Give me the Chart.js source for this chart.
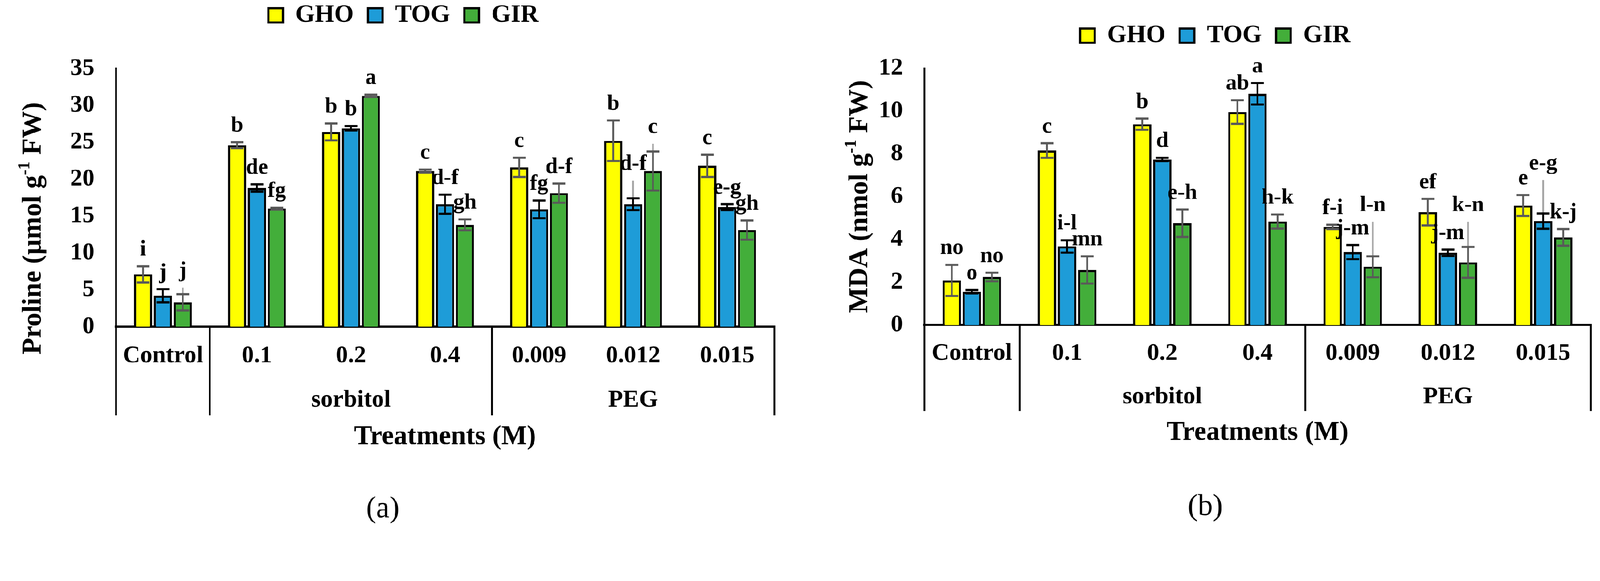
<!DOCTYPE html>
<html>
<head>
<meta charset="utf-8">
<script src="https://cdn.jsdelivr.net/npm/chart.js@4.4.1/dist/chart.umd.min.js"></script>
<style>
  html, body { margin: 0; padding: 0; background: #fff; overflow: hidden; }
  #wrap { position: relative; width: 4487px; height: 1487px; transform-origin: 0 0; }
  canvas { position: absolute; top: 0; }
  #chartA { left: 0; }
  #chartB { left: 2240px; }
</style>
</head>
<body>
<div id="wrap">
  <canvas id="chartA" width="2240" height="1487"></canvas>
  <canvas id="chartB" width="2247" height="1487"></canvas>
</div>
<script>
// categories
const treatments = ['Control', '0.1', '0.2', '0.4', '0.009', '0.012', '0.015']
const groupNames = ['sorbitol', 'PEG']
const groupSpans = [[1, 3], [4, 6]]
const dividers = [0, 1, 4]
const cultivars = ['GHO', 'TOG', 'GIR']

// (a) proline
const prolineGHO = [7.1, 24.6, 26.4, 21.1, 21.6, 25.2, 21.8]
const prolineTOG = [4.2, 18.8, 26.9, 16.6, 15.9, 16.6, 16.2]
const prolineGIR = [3.3, 16.0, 31.3, 13.8, 18.1, 21.1, 13.1]
const prolineErrGHO = [1.1, 0.4, 1.15, 0.2, 1.3, 2.75, 1.5]
const prolineErrTOG = [0.9, 0.5, 0.3, 1.3, 1.2, 0.8, 0.4]
const prolineErrGIR = [1.1, 0.15, 0.15, 0.75, 1.3, 2.65, 1.3]
const prolineGreyTOG = [null, null, null, null, null, 19.8, null]
const prolineGreyGIR = [5.3, null, null, null, null, 24.8, null]
const prolineLetGHO = ['i', 'b', 'b', 'c', 'c', 'b', 'c']
const prolineLetTOG = ['j', 'de', 'b', 'd-f', 'fg', 'd-f', 'e-g']
const prolineLetGIR = ['j', 'fg', 'a', 'gh', 'd-f', 'c', 'gh']
const prolineTicks = { max: 35, step: 5 }

// (b) MDA
const mdaGHO = [2.08, 8.15, 9.38, 9.95, 4.58, 5.27, 5.58]
const mdaTOG = [1.55, 3.67, 7.73, 10.8, 3.4, 3.37, 4.85]
const mdaGIR = [2.24, 2.57, 4.75, 4.83, 2.72, 2.92, 4.09]
const mdaErrGHO = [0.73, 0.34, 0.26, 0.55, 0.1, 0.62, 0.49]
const mdaErrTOG = [0.08, 0.29, 0.08, 0.5, 0.33, 0.15, 0.36]
const mdaErrGIR = [0.2, 0.64, 0.64, 0.33, 0.49, 0.72, 0.39]
const mdaGreyTOG = [null, null, null, null, null, null, 6.77]
const mdaGreyGIR = [null, null, null, null, 4.82, 4.82, null]
const mdaLetGHO = ['no', 'c', 'b', 'ab', 'f-i', 'ef', 'e']
const mdaLetTOG = ['o', 'i-l', 'd', 'a', 'j-m', 'j-m', 'e-g']
const mdaLetGIR = ['no', 'mn', 'e-h', 'h-k', 'l-n', 'k-n', 'k-j']
const mdaTicks = { max: 12, step: 2 }

const barColors = ['#FFFF00', '#1E9CD8', '#43AE3A']
const errColors = ['#595959', '#000000', '#595959']
const FONT = "'Liberation Serif', 'Times New Roman', serif"

// fit the 4487 x 1487 drawing into whatever viewport we get
const fitScale = Math.min(window.innerWidth / 4487, window.innerHeight / 1487) || 1
document.getElementById('wrap').style.transform = 'scale(' + fitScale + ')'

Chart.defaults.font.family = FONT
Chart.defaults.color = '#000'

// error bars, stray grey whiskers and the letter groups above each bar
const barExtras = {
  id: 'barExtras',
  afterDatasetsDraw(chart) {
    const { ctx } = chart
    const y = chart.scales.y
    ctx.save()
    chart.data.datasets.forEach((ds, i) => {
      chart.getDatasetMeta(i).data.forEach((bar, j) => {
        const v = ds.data[j]
        const e = ds.errors[j]
        const x = bar.x
        const yHi = y.getPixelForValue(v + e)
        const yLo = y.getPixelForValue(v - e)
        let top = yHi
        if (ds.grey[j] != null) {
          const yg = y.getPixelForValue(ds.grey[j])
          ctx.strokeStyle = '#A6A6A6'
          ctx.lineWidth = 5
          ctx.beginPath()
          ctx.moveTo(x, y.getPixelForValue(v))
          ctx.lineTo(x, yg)
          ctx.stroke()
          top = Math.min(top, yg)
        }
        ctx.strokeStyle = ds.errorColor
        ctx.lineWidth = 5
        ctx.beginPath()
        ctx.moveTo(x, yHi)
        ctx.lineTo(x, yLo)
        ctx.stroke()
        ctx.lineWidth = 6
        ctx.beginPath()
        ctx.moveTo(x - 18, yHi); ctx.lineTo(x + 18, yHi)
        ctx.moveTo(x - 18, yLo); ctx.lineTo(x + 18, yLo)
        ctx.stroke()

        ctx.fillStyle = '#000'
        ctx.font = 'bold 62px ' + FONT
        ctx.textAlign = 'center'
        ctx.textBaseline = 'alphabetic'
        ctx.fillText(ds.letters[j], x, top - 30)
      })
    })
    ctx.restore()
  }
}

// second row of the category axis (sorbitol / PEG)
const groupLabels = {
  id: 'groupLabels',
  afterDraw(chart, args, opts) {
    const { ctx } = chart
    const x = chart.scales.x
    ctx.save()
    ctx.font = 'bold 68px ' + FONT
    ctx.fillStyle = '#000'
    ctx.textAlign = 'center'
    ctx.textBaseline = 'middle'
    groupNames.forEach((name, k) => {
      const [a, b] = groupSpans[k]
      const cx = (x.getPixelForValue(a) + x.getPixelForValue(b)) / 2
      ctx.fillText(name, cx, x.top + opts.offsetY)
    })
    ctx.restore()
  }
}

// y title with a real superscript
const yTitle = {
  id: 'yTitle',
  afterDraw(chart, args, opts) {
    const { ctx, chartArea } = chart
    const cx = chartArea.left - opts.offsetX
    const cy = (chartArea.top + chartArea.bottom) / 2 + opts.shiftY
    const big = 'bold 76px ' + FONT
    const small = 'bold 46px ' + FONT
    ctx.save()
    ctx.translate(cx, cy)
    ctx.rotate(-Math.PI / 2)
    ctx.fillStyle = '#000'
    ctx.textBaseline = 'middle'
    ctx.textAlign = 'left'
    ctx.font = big
    const w1 = ctx.measureText(opts.before).width
    const w3 = ctx.measureText(opts.after).width
    ctx.font = small
    const w2 = ctx.measureText(opts.sup).width
    let px = -(w1 + w2 + w3) / 2
    ctx.font = big
    ctx.fillText(opts.before, px, 0)
    px += w1
    ctx.font = small
    ctx.fillText(opts.sup, px, -24)
    px += w2
    ctx.font = big
    ctx.fillText(opts.after, px, 0)
    ctx.restore()
  }
}

// legend height / position and panel letter position
const boxTweaks = {
  id: 'boxTweaks',
  beforeInit(chart, args, opts) {
    const legend = chart.legend
    const fit = legend.fit
    legend.fit = function () {
      fit.call(this)
      this.height = opts.legendHeight
    }
  },
  afterLayout(chart, args, opts) {
    const l = chart.legend
    l.left += opts.legendDx; l.right += opts.legendDx
    l.top += opts.legendDy; l.bottom += opts.legendDy
    const t = chart.titleBlock
    t.left += opts.titleDx; t.right += opts.titleDx
  }
}

function makeDatasets(values, errors, greys, letters) {
  return cultivars.map((name, i) => ({
    label: name,
    data: values[i],
    errors: errors[i],
    grey: greys[i],
    letters: letters[i],
    errorColor: errColors[i],
    backgroundColor: barColors[i],
    borderColor: '#000',
    borderWidth: 6,
    barPercentage: 0.915,
    categoryPercentage: 0.633
  }))
}

function makeChart(canvas, cfg) {
  return new Chart(canvas, {
    type: 'bar',
    data: {
      labels: treatments,
      datasets: makeDatasets(cfg.values, cfg.errors, cfg.greys, cfg.letters)
    },
    plugins: [barExtras, groupLabels, yTitle, boxTweaks],
    options: {
      responsive: false,
      animation: false,
      devicePixelRatio: 1,
      layout: { padding: cfg.padding },
      scales: {
        x: {
          grid: {
            display: true,
            offset: true,
            drawOnChartArea: false,
            drawTicks: true,
            tickLength: cfg.tickLength,
            lineWidth: 5,
            color: (c) => (c.index === undefined || dividers.includes(c.index)) ? '#000' : 'rgba(0,0,0,0)'
          },
          border: { display: true, color: '#000', width: 6 },
          ticks: {
            font: { size: 68, weight: 'bold' },
            color: '#000',
            padding: cfg.xTickPadding,
            autoSkip: false,
            maxRotation: 0
          },
          title: {
            display: true,
            text: 'Treatments (M)',
            font: { size: 76, weight: 'bold' },
            color: '#000',
            padding: { top: 0, bottom: cfg.xTitlePad }
          },
          afterFit: (s) => { s.height = cfg.xHeight }
        },
        y: {
          min: 0,
          max: cfg.ticks.max,
          grid: { display: false, drawTicks: false },
          border: { display: true, color: '#000', width: 5 },
          ticks: {
            stepSize: cfg.ticks.step,
            font: { size: 68, weight: 'bold' },
            color: '#000',
            padding: 60
          },
          afterFit: (s) => { s.width = cfg.yWidth }
        }
      },
      plugins: {
        legend: {
          display: true,
          position: 'top',
          labels: {
            boxWidth: 41,
            boxHeight: 40,
            padding: 40,
            color: '#000',
            font: { size: 70, weight: 'bold' }
          }
        },
        title: {
          display: true,
          position: 'bottom',
          text: cfg.panel,
          color: '#000',
          font: { size: 84, weight: 'normal' },
          padding: { top: 0, bottom: cfg.panelPad }
        },
        tooltip: { enabled: false },
        groupLabels: { offsetY: cfg.groupOffset },
        yTitle: cfg.yTitle,
        boxTweaks: cfg.tweaks
      }
    }
  })
}

makeChart(document.getElementById('chartA'), {
  values: [prolineGHO, prolineTOG, prolineGIR],
  errors: [prolineErrGHO, prolineErrTOG, prolineErrGIR],
  greys: [[], prolineGreyTOG, prolineGreyGIR],
  letters: [prolineLetGHO, prolineLetTOG, prolineLetGIR],
  ticks: prolineTicks,
  panel: '(a)',
  padding: { left: 40, right: 69, top: 0, bottom: 0 },
  yWidth: 285,
  xHeight: 461.6,
  tickLength: 248,
  xTickPadding: -206,
  xTitlePad: 107,
  panelPad: 8.6,
  groupOffset: 206,
  yTitle: { before: 'Proline (µmol g', sup: '-1', after: ' FW)', offsetX: 231, shiftY: 86 },
  tweaks: { legendHeight: 192, legendDx: 26, legendDy: -32, titleDx: -32 }
})

makeChart(document.getElementById('chartB'), {
  values: [mdaGHO, mdaTOG, mdaGIR],
  errors: [mdaErrGHO, mdaErrTOG, mdaErrGIR],
  greys: [[], mdaGreyTOG, mdaGreyGIR],
  letters: [mdaLetGHO, mdaLetTOG, mdaLetGIR],
  ticks: mdaTicks,
  panel: '(b)',
  padding: { left: 115, right: 26, top: 0, bottom: 0 },
  yWidth: 237,
  xHeight: 460.6,
  tickLength: 241,
  xTickPadding: -201,
  xTitlePad: 113,
  panelPad: 14.6,
  groupOffset: 202,
  yTitle: { before: 'MDA (nmol g', sup: '-1', after: ' FW)', offsetX: 180, shiftY: 0 },
  tweaks: { legendHeight: 191, legendDx: 0, legendDy: 25, titleDx: -28 }
})
</script>
</body>
</html>
